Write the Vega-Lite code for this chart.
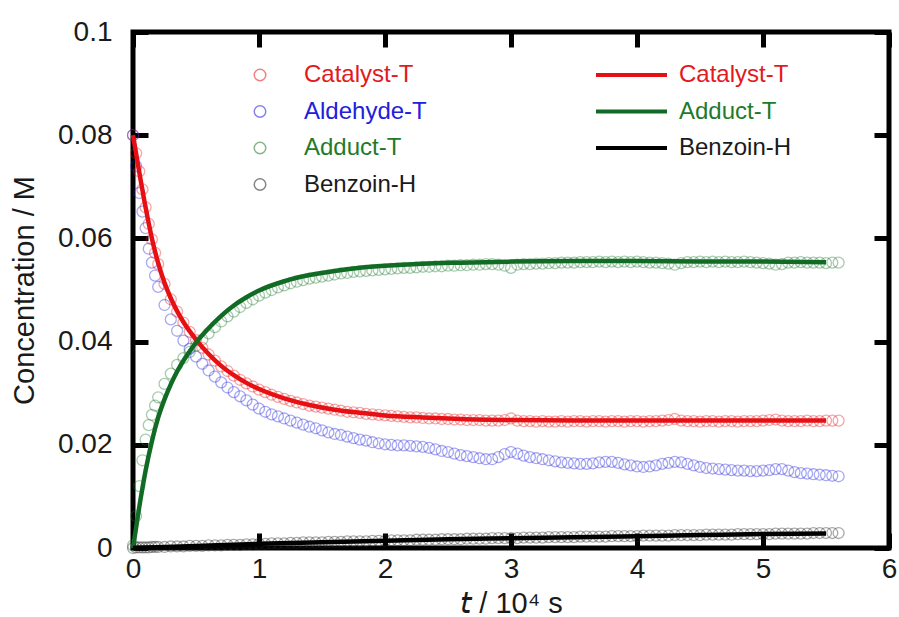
{
"$schema":"https://vega.github.io/schema/vega-lite/v6.json",
"width":756,"height":516,
"autosize":{"type":"none"},
"padding":{"left":133,"top":32,"right":10,"bottom":69},
"background":"white",
"config":{
"view":{"stroke":"black","strokeWidth":5},
"font":"Liberation Sans",
"axis":{"labelFont":"Liberation Sans","labelFontSize":28,"labelColor":"#1a1a1a","titleFont":"Liberation Sans","titleFontSize":29,"titleColor":"#1a1a1a","titleFontWeight":"normal","domain":false,"grid":false,"tickColor":"black","tickWidth":5,"tickSize":-15,"labelFlush":false,"labelOverlap":false,"labelBound":false}
},
"datasets":{
"cat":[{"t":0,"c":0.08},{"t":0.025,"c":0.0765},{"t":0.05,"c":0.073},{"t":0.075,"c":0.0695},{"t":0.1,"c":0.066},{"t":0.125,"c":0.0628},{"t":0.15,"c":0.0598},{"t":0.175,"c":0.0572},{"t":0.2,"c":0.055},{"t":0.25,"c":0.0512},{"t":0.3,"c":0.0482},{"t":0.35,"c":0.0458},{"t":0.4,"c":0.0437},{"t":0.45,"c":0.0419},{"t":0.5,"c":0.0403},{"t":0.55,"c":0.0388},{"t":0.6,"c":0.0375},{"t":0.65,"c":0.0363},{"t":0.7,"c":0.0352},{"t":0.75,"c":0.0343},{"t":0.8,"c":0.0334},{"t":0.85,"c":0.0326},{"t":0.9,"c":0.0319},{"t":0.95,"c":0.0313},{"t":1.0,"c":0.0307},{"t":1.05,"c":0.0302},{"t":1.1,"c":0.0297},{"t":1.15,"c":0.0293},{"t":1.2,"c":0.0289},{"t":1.25,"c":0.0285},{"t":1.3,"c":0.0282},{"t":1.35,"c":0.0279},{"t":1.4,"c":0.0276},{"t":1.45,"c":0.0274},{"t":1.5,"c":0.0272},{"t":1.55,"c":0.027},{"t":1.6,"c":0.0268},{"t":1.65,"c":0.0266},{"t":1.7,"c":0.0264},{"t":1.75,"c":0.0263},{"t":1.8,"c":0.0262},{"t":1.85,"c":0.026},{"t":1.9,"c":0.0259},{"t":1.95,"c":0.0258},{"t":2.0,"c":0.0257},{"t":2.05,"c":0.0256},{"t":2.1,"c":0.0255},{"t":2.15,"c":0.0254},{"t":2.2,"c":0.0253},{"t":2.25,"c":0.0253},{"t":2.3,"c":0.0252},{"t":2.35,"c":0.0251},{"t":2.4,"c":0.0251},{"t":2.45,"c":0.025},{"t":2.5,"c":0.025},{"t":2.55,"c":0.0249},{"t":2.6,"c":0.0249},{"t":2.65,"c":0.0248},{"t":2.7,"c":0.0248},{"t":2.75,"c":0.0248},{"t":2.8,"c":0.0247},{"t":2.85,"c":0.0247},{"t":2.9,"c":0.0247},{"t":2.95,"c":0.0248},{"t":3.0,"c":0.0251},{"t":3.05,"c":0.0247},{"t":3.1,"c":0.0246},{"t":3.15,"c":0.0246},{"t":3.2,"c":0.0245},{"t":3.25,"c":0.0246},{"t":3.3,"c":0.0245},{"t":3.35,"c":0.0245},{"t":3.4,"c":0.0246},{"t":3.45,"c":0.0245},{"t":3.5,"c":0.0246},{"t":3.55,"c":0.0246},{"t":3.6,"c":0.0245},{"t":3.65,"c":0.0246},{"t":3.7,"c":0.0246},{"t":3.75,"c":0.0245},{"t":3.8,"c":0.0246},{"t":3.85,"c":0.0246},{"t":3.9,"c":0.0245},{"t":3.95,"c":0.0246},{"t":4.0,"c":0.0246},{"t":4.05,"c":0.0245},{"t":4.1,"c":0.0246},{"t":4.15,"c":0.0246},{"t":4.2,"c":0.0247},{"t":4.25,"c":0.0248},{"t":4.3,"c":0.025},{"t":4.35,"c":0.0247},{"t":4.4,"c":0.0246},{"t":4.45,"c":0.0246},{"t":4.5,"c":0.0245},{"t":4.55,"c":0.0246},{"t":4.6,"c":0.0246},{"t":4.65,"c":0.0245},{"t":4.7,"c":0.0246},{"t":4.75,"c":0.0246},{"t":4.8,"c":0.0245},{"t":4.85,"c":0.0246},{"t":4.9,"c":0.0246},{"t":4.95,"c":0.0246},{"t":5.0,"c":0.0247},{"t":5.05,"c":0.0248},{"t":5.1,"c":0.0249},{"t":5.15,"c":0.0247},{"t":5.2,"c":0.0246},{"t":5.25,"c":0.0246},{"t":5.3,"c":0.0246},{"t":5.35,"c":0.0247},{"t":5.4,"c":0.0246},{"t":5.45,"c":0.0246},{"t":5.5,"c":0.0247},{"t":5.55,"c":0.0247},{"t":5.6,"c":0.0247}],
"ald":[{"t":0,"c":0.08},{"t":0.025,"c":0.074},{"t":0.05,"c":0.0688},{"t":0.075,"c":0.0652},{"t":0.1,"c":0.062},{"t":0.125,"c":0.058},{"t":0.15,"c":0.0553},{"t":0.175,"c":0.0528},{"t":0.2,"c":0.0506},{"t":0.25,"c":0.0471},{"t":0.3,"c":0.0443},{"t":0.35,"c":0.0421},{"t":0.4,"c":0.0402},{"t":0.45,"c":0.0386},{"t":0.5,"c":0.0371},{"t":0.55,"c":0.0357},{"t":0.6,"c":0.0344},{"t":0.65,"c":0.0332},{"t":0.7,"c":0.0321},{"t":0.75,"c":0.0311},{"t":0.8,"c":0.0302},{"t":0.85,"c":0.0294},{"t":0.9,"c":0.0286},{"t":0.95,"c":0.0278},{"t":1.0,"c":0.027},{"t":1.05,"c":0.0264},{"t":1.1,"c":0.0259},{"t":1.15,"c":0.0255},{"t":1.2,"c":0.0251},{"t":1.25,"c":0.0247},{"t":1.3,"c":0.0243},{"t":1.35,"c":0.0239},{"t":1.4,"c":0.0235},{"t":1.45,"c":0.0232},{"t":1.5,"c":0.0228},{"t":1.55,"c":0.0224},{"t":1.6,"c":0.0221},{"t":1.65,"c":0.0219},{"t":1.7,"c":0.0216},{"t":1.75,"c":0.0213},{"t":1.8,"c":0.021},{"t":1.85,"c":0.0208},{"t":1.9,"c":0.0205},{"t":1.95,"c":0.0203},{"t":2.0,"c":0.0201},{"t":2.05,"c":0.02},{"t":2.1,"c":0.0199},{"t":2.15,"c":0.0199},{"t":2.2,"c":0.0198},{"t":2.25,"c":0.0197},{"t":2.3,"c":0.0196},{"t":2.35,"c":0.0194},{"t":2.4,"c":0.0191},{"t":2.45,"c":0.0188},{"t":2.5,"c":0.0186},{"t":2.55,"c":0.0183},{"t":2.6,"c":0.018},{"t":2.65,"c":0.0178},{"t":2.7,"c":0.0176},{"t":2.75,"c":0.0174},{"t":2.8,"c":0.0172},{"t":2.85,"c":0.0172},{"t":2.9,"c":0.0176},{"t":2.95,"c":0.0182},{"t":3.0,"c":0.0186},{"t":3.05,"c":0.0183},{"t":3.1,"c":0.0179},{"t":3.15,"c":0.0176},{"t":3.2,"c":0.0174},{"t":3.25,"c":0.0172},{"t":3.3,"c":0.017},{"t":3.35,"c":0.0168},{"t":3.4,"c":0.0166},{"t":3.45,"c":0.0165},{"t":3.5,"c":0.0164},{"t":3.55,"c":0.0163},{"t":3.6,"c":0.0163},{"t":3.65,"c":0.0164},{"t":3.7,"c":0.0166},{"t":3.75,"c":0.0167},{"t":3.8,"c":0.0167},{"t":3.85,"c":0.0165},{"t":3.9,"c":0.0162},{"t":3.95,"c":0.016},{"t":4.0,"c":0.0158},{"t":4.05,"c":0.0157},{"t":4.1,"c":0.0158},{"t":4.15,"c":0.016},{"t":4.2,"c":0.0163},{"t":4.25,"c":0.0165},{"t":4.3,"c":0.0167},{"t":4.35,"c":0.0166},{"t":4.4,"c":0.0163},{"t":4.45,"c":0.016},{"t":4.5,"c":0.0157},{"t":4.55,"c":0.0155},{"t":4.6,"c":0.0154},{"t":4.65,"c":0.0153},{"t":4.7,"c":0.0152},{"t":4.75,"c":0.0151},{"t":4.8,"c":0.015},{"t":4.85,"c":0.015},{"t":4.9,"c":0.0149},{"t":4.95,"c":0.0149},{"t":5.0,"c":0.015},{"t":5.05,"c":0.0151},{"t":5.1,"c":0.0153},{"t":5.15,"c":0.0153},{"t":5.2,"c":0.015},{"t":5.25,"c":0.0147},{"t":5.3,"c":0.0145},{"t":5.35,"c":0.0144},{"t":5.4,"c":0.0143},{"t":5.45,"c":0.0142},{"t":5.5,"c":0.0141},{"t":5.55,"c":0.014},{"t":5.6,"c":0.0139}],
"add":[{"t":0,"c":0.0005},{"t":0.025,"c":0.0062},{"t":0.05,"c":0.012},{"t":0.075,"c":0.017},{"t":0.1,"c":0.021},{"t":0.125,"c":0.0238},{"t":0.15,"c":0.0258},{"t":0.175,"c":0.0276},{"t":0.2,"c":0.0292},{"t":0.25,"c":0.0318},{"t":0.3,"c":0.0338},{"t":0.35,"c":0.0355},{"t":0.4,"c":0.0368},{"t":0.45,"c":0.038},{"t":0.5,"c":0.0392},{"t":0.55,"c":0.0404},{"t":0.6,"c":0.0416},{"t":0.65,"c":0.0428},{"t":0.7,"c":0.0439},{"t":0.75,"c":0.0449},{"t":0.8,"c":0.0458},{"t":0.85,"c":0.0467},{"t":0.9,"c":0.0475},{"t":0.95,"c":0.0482},{"t":1.0,"c":0.0489},{"t":1.05,"c":0.0495},{"t":1.1,"c":0.05},{"t":1.15,"c":0.0505},{"t":1.2,"c":0.0509},{"t":1.25,"c":0.0513},{"t":1.3,"c":0.0516},{"t":1.35,"c":0.0519},{"t":1.4,"c":0.0522},{"t":1.45,"c":0.0524},{"t":1.5,"c":0.0526},{"t":1.55,"c":0.0528},{"t":1.6,"c":0.053},{"t":1.65,"c":0.0532},{"t":1.7,"c":0.0533},{"t":1.75,"c":0.0535},{"t":1.8,"c":0.0536},{"t":1.85,"c":0.0537},{"t":1.9,"c":0.0538},{"t":1.95,"c":0.0539},{"t":2.0,"c":0.054},{"t":2.05,"c":0.0541},{"t":2.1,"c":0.0542},{"t":2.15,"c":0.0543},{"t":2.2,"c":0.0543},{"t":2.25,"c":0.0544},{"t":2.3,"c":0.0545},{"t":2.35,"c":0.0545},{"t":2.4,"c":0.0546},{"t":2.45,"c":0.0546},{"t":2.5,"c":0.0547},{"t":2.55,"c":0.0547},{"t":2.6,"c":0.0548},{"t":2.65,"c":0.0548},{"t":2.7,"c":0.0549},{"t":2.75,"c":0.0549},{"t":2.8,"c":0.055},{"t":2.85,"c":0.055},{"t":2.9,"c":0.0549},{"t":2.95,"c":0.0547},{"t":3.0,"c":0.0543},{"t":3.05,"c":0.0549},{"t":3.1,"c":0.055},{"t":3.15,"c":0.055},{"t":3.2,"c":0.0551},{"t":3.25,"c":0.0551},{"t":3.3,"c":0.0552},{"t":3.35,"c":0.0552},{"t":3.4,"c":0.0553},{"t":3.45,"c":0.0553},{"t":3.5,"c":0.0553},{"t":3.55,"c":0.0554},{"t":3.6,"c":0.0554},{"t":3.65,"c":0.0554},{"t":3.7,"c":0.0555},{"t":3.75,"c":0.0554},{"t":3.8,"c":0.0555},{"t":3.85,"c":0.0554},{"t":3.9,"c":0.0555},{"t":3.95,"c":0.0554},{"t":4.0,"c":0.0555},{"t":4.05,"c":0.0554},{"t":4.1,"c":0.0553},{"t":4.15,"c":0.0553},{"t":4.2,"c":0.0552},{"t":4.25,"c":0.0551},{"t":4.3,"c":0.0549},{"t":4.35,"c":0.0552},{"t":4.4,"c":0.0554},{"t":4.45,"c":0.0554},{"t":4.5,"c":0.0555},{"t":4.55,"c":0.0554},{"t":4.6,"c":0.0555},{"t":4.65,"c":0.0554},{"t":4.7,"c":0.0555},{"t":4.75,"c":0.0554},{"t":4.8,"c":0.0554},{"t":4.85,"c":0.0555},{"t":4.9,"c":0.0554},{"t":4.95,"c":0.0553},{"t":5.0,"c":0.0552},{"t":5.05,"c":0.0551},{"t":5.1,"c":0.0549},{"t":5.15,"c":0.055},{"t":5.2,"c":0.0553},{"t":5.25,"c":0.0553},{"t":5.3,"c":0.0554},{"t":5.35,"c":0.0553},{"t":5.4,"c":0.0553},{"t":5.45,"c":0.0553},{"t":5.5,"c":0.0552},{"t":5.55,"c":0.0553},{"t":5.6,"c":0.0553}],
"ben":[{"t":0,"c":0},{"t":0.025,"c":0.0001},{"t":0.05,"c":0.0001},{"t":0.075,"c":0.0001},{"t":0.1,"c":0.0001},{"t":0.125,"c":0.0001},{"t":0.15,"c":0.0002},{"t":0.175,"c":0.0002},{"t":0.2,"c":0.0002},{"t":0.25,"c":0.0002},{"t":0.3,"c":0.0003},{"t":0.35,"c":0.0003},{"t":0.4,"c":0.0003},{"t":0.45,"c":0.0004},{"t":0.5,"c":0.0004},{"t":0.55,"c":0.0004},{"t":0.6,"c":0.0005},{"t":0.65,"c":0.0005},{"t":0.7,"c":0.0005},{"t":0.75,"c":0.0006},{"t":0.8,"c":0.0006},{"t":0.85,"c":0.0006},{"t":0.9,"c":0.0007},{"t":0.95,"c":0.0007},{"t":1.0,"c":0.0008},{"t":1.05,"c":0.0008},{"t":1.1,"c":0.0009},{"t":1.15,"c":0.0009},{"t":1.2,"c":0.0009},{"t":1.25,"c":0.001},{"t":1.3,"c":0.001},{"t":1.35,"c":0.0011},{"t":1.4,"c":0.0011},{"t":1.45,"c":0.0011},{"t":1.5,"c":0.0011},{"t":1.55,"c":0.0012},{"t":1.6,"c":0.0012},{"t":1.65,"c":0.0012},{"t":1.7,"c":0.0013},{"t":1.75,"c":0.0013},{"t":1.8,"c":0.0013},{"t":1.85,"c":0.0013},{"t":1.9,"c":0.0014},{"t":1.95,"c":0.0014},{"t":2.0,"c":0.0014},{"t":2.05,"c":0.0015},{"t":2.1,"c":0.0015},{"t":2.15,"c":0.0015},{"t":2.2,"c":0.0015},{"t":2.25,"c":0.0016},{"t":2.3,"c":0.0016},{"t":2.35,"c":0.0016},{"t":2.4,"c":0.0016},{"t":2.45,"c":0.0017},{"t":2.5,"c":0.0017},{"t":2.55,"c":0.0017},{"t":2.6,"c":0.0017},{"t":2.65,"c":0.0018},{"t":2.7,"c":0.0018},{"t":2.75,"c":0.0018},{"t":2.8,"c":0.0018},{"t":2.85,"c":0.0019},{"t":2.9,"c":0.0019},{"t":2.95,"c":0.0019},{"t":3.0,"c":0.0019},{"t":3.05,"c":0.0019},{"t":3.1,"c":0.002},{"t":3.15,"c":0.002},{"t":3.2,"c":0.002},{"t":3.25,"c":0.002},{"t":3.3,"c":0.0021},{"t":3.35,"c":0.0021},{"t":3.4,"c":0.0021},{"t":3.45,"c":0.0021},{"t":3.5,"c":0.0021},{"t":3.55,"c":0.0022},{"t":3.6,"c":0.0022},{"t":3.65,"c":0.0022},{"t":3.7,"c":0.0022},{"t":3.75,"c":0.0022},{"t":3.8,"c":0.0023},{"t":3.85,"c":0.0023},{"t":3.9,"c":0.0023},{"t":3.95,"c":0.0023},{"t":4.0,"c":0.0023},{"t":4.05,"c":0.0024},{"t":4.1,"c":0.0024},{"t":4.15,"c":0.0024},{"t":4.2,"c":0.0024},{"t":4.25,"c":0.0024},{"t":4.3,"c":0.0025},{"t":4.35,"c":0.0025},{"t":4.4,"c":0.0025},{"t":4.45,"c":0.0025},{"t":4.5,"c":0.0025},{"t":4.55,"c":0.0026},{"t":4.6,"c":0.0026},{"t":4.65,"c":0.0026},{"t":4.7,"c":0.0026},{"t":4.75,"c":0.0026},{"t":4.8,"c":0.0027},{"t":4.85,"c":0.0027},{"t":4.9,"c":0.0027},{"t":4.95,"c":0.0027},{"t":5.0,"c":0.0027},{"t":5.05,"c":0.0027},{"t":5.1,"c":0.0028},{"t":5.15,"c":0.0028},{"t":5.2,"c":0.0028},{"t":5.25,"c":0.0028},{"t":5.3,"c":0.0028},{"t":5.35,"c":0.0028},{"t":5.4,"c":0.0029},{"t":5.45,"c":0.0029},{"t":5.5,"c":0.0029},{"t":5.55,"c":0.0029},{"t":5.6,"c":0.0029}],
"catfit":[{"t":0,"c":0.08},{"t":0.05,"c":0.0728},{"t":0.1,"c":0.066},{"t":0.15,"c":0.06},{"t":0.2,"c":0.0552},{"t":0.25,"c":0.0514},{"t":0.3,"c":0.0484},{"t":0.35,"c":0.0459},{"t":0.4,"c":0.0438},{"t":0.5,"c":0.0404},{"t":0.6,"c":0.0376},{"t":0.7,"c":0.0353},{"t":0.8,"c":0.0335},{"t":0.9,"c":0.032},{"t":1.0,"c":0.0308},{"t":1.2,"c":0.029},{"t":1.4,"c":0.0277},{"t":1.6,"c":0.0268},{"t":1.8,"c":0.0262},{"t":2.0,"c":0.0257},{"t":2.3,"c":0.0253},{"t":2.6,"c":0.025},{"t":3.0,"c":0.0248},{"t":3.5,"c":0.0247},{"t":4.0,"c":0.0247},{"t":4.5,"c":0.0247},{"t":5.0,"c":0.0247},{"t":5.5,"c":0.0247}],
"addfit":[{"t":0,"c":0},{"t":0.05,"c":0.008},{"t":0.1,"c":0.015},{"t":0.15,"c":0.0207},{"t":0.2,"c":0.0253},{"t":0.25,"c":0.0288},{"t":0.3,"c":0.0317},{"t":0.35,"c":0.0342},{"t":0.4,"c":0.0363},{"t":0.45,"c":0.0381},{"t":0.5,"c":0.0398},{"t":0.6,"c":0.0426},{"t":0.7,"c":0.045},{"t":0.8,"c":0.047},{"t":0.9,"c":0.0486},{"t":1.0,"c":0.0499},{"t":1.2,"c":0.0517},{"t":1.4,"c":0.0529},{"t":1.6,"c":0.0537},{"t":1.8,"c":0.0543},{"t":2.0,"c":0.0547},{"t":2.3,"c":0.0551},{"t":2.6,"c":0.0553},{"t":3.0,"c":0.0555},{"t":3.5,"c":0.0556},{"t":4.0,"c":0.0556},{"t":4.5,"c":0.0555},{"t":5.0,"c":0.0555},{"t":5.5,"c":0.0554}],
"benfit":[{"t":0,"c":0},{"t":0.5,"c":0.0004},{"t":1.0,"c":0.0008},{"t":1.5,"c":0.0011},{"t":2.0,"c":0.0014},{"t":2.5,"c":0.0017},{"t":3.0,"c":0.0019},{"t":3.5,"c":0.0021},{"t":4.0,"c":0.0023},{"t":4.5,"c":0.0025},{"t":5.0,"c":0.0027},{"t":5.5,"c":0.0028}]
},
"layer":[
{"data":{"name":"benfit"},"transform":[{"filter":"false"}],"mark":{"type":"line"},
"encoding":{"x":{"field":"t","type":"quantitative","scale":{"domain":[0,6],"nice":false,"zero":false},"axis":{"values":[0,1,2,3,4,5,6],"labelPadding":22,"title":"𝘵 / 10⁴ s","titlePadding":6}},
"y":{"field":"c","type":"quantitative","scale":{"domain":[0,0.1],"nice":false},"axis":{"values":[0,0.02,0.04,0.06,0.08,0.1],"format":".2~f","labelPadding":36,"title":"Concentration / M","titlePadding":18}},
"color":{"datum":"Catalyst-T","type":"nominal","scale":{"domain":["Catalyst-T","Aldehyde-T","Adduct-T","Benzoin-H"],"range":["#e8191b","#1f1fe0","#1d7a2e","#222222"]},
"legend":{"title":null,"orient":"none","legendX":115,"legendY":31,"padding":0,"symbolType":"circle","symbolSize":133,"symbolStrokeWidth":1.5,"symbolOpacity":0.55,"symbolFillColor":"transparent","labelFont":"Liberation Sans","labelFontSize":24,"labelOffset":32,"rowPadding":12.5,
"encode":{"labels":{"update":{"fill":{"signal":"datum.value === 'Catalyst-T' ? '#e3191c' : datum.value === 'Aldehyde-T' ? '#2020dd' : datum.value === 'Adduct-T' ? '#1f7a2a' : '#1a1a1a'"}}}}}}}},
{"data":{"name":"cat"},"mark":{"type":"point","shape":"circle","filled":false,"size":120,"strokeWidth":1.3,"strokeOpacity":0.55,"color":"#e8191b"},
"encoding":{"x":{"field":"t","type":"quantitative","axis":null},"y":{"field":"c","type":"quantitative","axis":null}}},
{"data":{"name":"ald"},"mark":{"type":"point","shape":"circle","filled":false,"size":120,"strokeWidth":1.3,"strokeOpacity":0.55,"color":"#1f1fe0"},
"encoding":{"x":{"field":"t","type":"quantitative","axis":null},"y":{"field":"c","type":"quantitative","axis":null}}},
{"data":{"name":"add"},"mark":{"type":"point","shape":"circle","filled":false,"size":120,"strokeWidth":1.3,"strokeOpacity":0.55,"color":"#1d7a2e"},
"encoding":{"x":{"field":"t","type":"quantitative","axis":null},"y":{"field":"c","type":"quantitative","axis":null}}},
{"data":{"name":"ben"},"mark":{"type":"point","shape":"circle","filled":false,"size":120,"strokeWidth":1.3,"strokeOpacity":0.55,"color":"#222222"},
"encoding":{"x":{"field":"t","type":"quantitative","axis":null},"y":{"field":"c","type":"quantitative","axis":null}}},
{"data":{"name":"catfit"},"mark":{"type":"line","strokeWidth":4.5,"interpolate":"monotone"},
"encoding":{"x":{"field":"t","type":"quantitative","axis":null},"y":{"field":"c","type":"quantitative","axis":null},
"stroke":{"datum":"Catalyst-T","type":"nominal","scale":{"domain":["Catalyst-T","Adduct-T","Benzoin-H"],"range":["#e60f14","#116b24","#000000"]},
"legend":{"title":null,"orient":"none","legendX":461,"legendY":31,"padding":0,"symbolType":"stroke","symbolSize":5041,"symbolStrokeWidth":4,"clipHeight":24,"labelFont":"Liberation Sans","labelFontSize":24,"labelOffset":10,"rowPadding":12.5,
"encode":{"labels":{"update":{"fill":{"signal":"datum.value === 'Catalyst-T' ? '#e3191c' : datum.value === 'Adduct-T' ? '#1f7a2a' : '#1a1a1a'"}}}}}}}},
{"data":{"name":"addfit"},"mark":{"type":"line","strokeWidth":4.5,"interpolate":"monotone"},
"encoding":{"x":{"field":"t","type":"quantitative","axis":null},"y":{"field":"c","type":"quantitative","axis":null},"stroke":{"datum":"Adduct-T","type":"nominal"}}},
{"data":{"name":"benfit"},"mark":{"type":"line","strokeWidth":4.5,"interpolate":"monotone"},
"encoding":{"x":{"field":"t","type":"quantitative","axis":null},"y":{"field":"c","type":"quantitative","axis":null},"stroke":{"datum":"Benzoin-H","type":"nominal"}}},
{"data":{"name":"benfit"},"mark":{"type":"line","opacity":0},
"encoding":{"x":{"field":"t","type":"quantitative","axis":{"orient":"top","values":[0,1,2,3,4,5,6],"labels":false,"title":null}},"y":{"field":"c","type":"quantitative","axis":{"orient":"right","values":[0,0.02,0.04,0.06,0.08,0.1],"labels":false,"title":null}}}}
],
"resolve":{"axis":{"x":"independent","y":"independent"}}
}
